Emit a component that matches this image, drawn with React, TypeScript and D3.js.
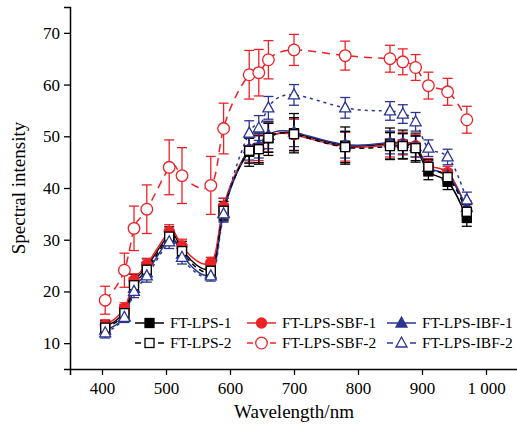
import * as d3 from 'd3';
import { useEffect, useRef } from 'react';

const wavelengths = [405, 435, 450, 470, 505, 525, 570, 590, 630, 645, 660, 700, 780, 850, 870, 890, 910, 940, 970];

const lps1 = [13.2, 16.2, 21.8, 24.8, 31.0, 28.2, 24.6, 36.0, 47.0, 47.6, 49.6, 50.6, 48.2, 48.6, 48.4, 47.8, 43.2, 41.2, 34.2];
const lps1Err = [1.2, 1.2, 1.5, 1.5, 1.5, 1.5, 1.2, 2.0, 2.8, 3.0, 3.3, 3.8, 3.6, 3.0, 2.8, 2.8, 1.6, 1.5, 1.6];
const lps2 = [13.0, 15.8, 21.2, 24.2, 30.6, 27.8, 24.0, 35.6, 47.2, 47.5, 49.7, 50.4, 47.9, 48.1, 48.1, 47.7, 44.1, 42.1, 35.4];
const lps2Err = [1.0, 1.0, 1.3, 1.3, 1.3, 1.3, 1.0, 1.8, 2.4, 2.6, 2.8, 3.2, 3.0, 2.6, 2.4, 2.4, 1.4, 1.3, 1.4];
const sbf1 = [13.5, 16.8, 22.2, 25.2, 31.6, 28.8, 25.6, 36.4, 47.4, 47.8, 49.8, 50.3, 48.0, 48.4, 48.6, 48.2, 44.4, 43.0, 35.8];
const sbf1Err = [1.0, 1.0, 1.2, 1.2, 1.3, 1.3, 1.0, 1.6, 2.4, 2.5, 2.8, 3.0, 2.8, 2.4, 2.2, 2.2, 1.3, 1.2, 1.3];
const sbf2 = [18.3, 24.1, 32.2, 35.9, 44.0, 42.4, 40.5, 51.5, 61.9, 62.3, 64.8, 66.7, 65.6, 65.0, 64.4, 63.3, 59.8, 58.6, 53.2];
const sbf2Err = [2.7, 3.3, 4.3, 4.7, 5.3, 5.4, 5.6, 4.9, 4.7, 4.5, 3.7, 3.0, 2.8, 2.6, 2.5, 2.5, 2.6, 2.6, 2.6];
const ibf1 = [12.5, 15.2, 20.6, 23.6, 30.2, 27.2, 23.4, 35.2, 47.6, 48.2, 50.2, 50.8, 48.4, 48.8, 48.6, 48.0, 44.0, 42.4, 36.2];
const ibf1Err = [1.0, 1.0, 1.2, 1.2, 1.3, 1.3, 1.0, 1.6, 2.2, 2.4, 2.6, 2.8, 2.6, 2.2, 2.0, 2.0, 1.3, 1.2, 1.3];
const ibf2 = [12.0, 15.0, 20.0, 23.0, 29.6, 26.6, 23.0, 35.0, 50.6, 51.6, 55.5, 58.0, 55.5, 54.9, 54.3, 52.8, 47.7, 46.0, 37.7];
const ibf2Err = [1.0, 1.0, 1.2, 1.2, 1.3, 1.3, 1.0, 1.6, 2.4, 2.4, 2.2, 2.0, 2.0, 1.8, 1.8, 1.8, 1.6, 1.5, 1.5];

const xTicks = [400, 500, 600, 700, 800, 900, 1000];
const yTicks = [10, 20, 30, 40, 50, 60, 70];

const RED = '#ec2227';
const BLUE = '#2b3590';

type Series = {
    name: string;
    values: number[];
    err: number[];
    color: string;
    dash: string | null;
    marker: 'square' | 'circle' | 'triangle';
    filled: boolean;
};

const series: Series[] = [
    { name: 'FT-LPS-1', values: lps1, err: lps1Err, color: '#000', dash: null, marker: 'square', filled: true },
    { name: 'FT-LPS-SBF-1', values: sbf1, err: sbf1Err, color: RED, dash: null, marker: 'circle', filled: true },
    { name: 'FT-LPS-IBF-1', values: ibf1, err: ibf1Err, color: BLUE, dash: null, marker: 'triangle', filled: true },
    { name: 'FT-LPS-2', values: lps2, err: lps2Err, color: '#000', dash: '5,4', marker: 'square', filled: false },
    { name: 'FT-LPS-SBF-2', values: sbf2, err: sbf2Err, color: RED, dash: '8,6', marker: 'circle', filled: false },
    { name: 'FT-LPS-IBF-2', values: ibf2, err: ibf2Err, color: BLUE, dash: '3,4', marker: 'triangle', filled: false },
];

// legend layout: row, column
const legendOrder = ['FT-LPS-1', 'FT-LPS-SBF-1', 'FT-LPS-IBF-1', 'FT-LPS-2', 'FT-LPS-SBF-2', 'FT-LPS-IBF-2'];

function drawMarker(g: any, s: Series, cx: number, cy: number) {
    const fill = s.filled ? s.color : '#fff';
    if (s.marker === 'square') {
        g.append('rect')
            .attr('x', cx - 4.5)
            .attr('y', cy - 4.5)
            .attr('width', 9)
            .attr('height', 9)
            .attr('fill', fill)
            .attr('stroke', s.color)
            .attr('stroke-width', 1.3);
    } else if (s.marker === 'circle') {
        g.append('circle')
            .attr('cx', cx)
            .attr('cy', cy)
            .attr('r', s.filled ? 5 : 5.8)
            .attr('fill', fill)
            .attr('stroke', s.color)
            .attr('stroke-width', 1.3);
    } else {
        const h = 10;
        g.append('path')
            .attr('d', `M${cx},${cy - h * 0.6}L${cx + 5.5},${cy + h * 0.4}L${cx - 5.5},${cy + h * 0.4}Z`)
            .attr('fill', fill)
            .attr('stroke', s.color)
            .attr('stroke-width', 1.3);
    }
}

const App = () => {
    const svgRef = useRef<SVGSVGElement>(null);

    useEffect(() => {
        const width = 517;
        const height = 424;
        const svg = d3.select(svgRef.current);
        svg.selectAll('*').remove();
        svg.attr('width', width).attr('height', height);

        const x = d3.scaleLinear().domain([350, 1050]).range([70, 518]);
        const y = d3.scaleLinear().domain([5, 75]).range([369, 7]);

        const font = "'Liberation Serif', 'Times New Roman', serif";

        // 오차 막대와 선
        series.forEach((s) => {
            const g = svg.append('g');
            s.values.forEach((v, i) => {
                const cx = x(wavelengths[i]);
                const y0 = y(v - s.err[i]);
                const y1 = y(v + s.err[i]);
                g.append('line').attr('x1', cx).attr('x2', cx).attr('y1', y0).attr('y2', y1).attr('stroke', s.color).attr('stroke-width', 1.3);
                [y0, y1].forEach((yy) =>
                    g.append('line').attr('x1', cx - 5).attr('x2', cx + 5).attr('y1', yy).attr('y2', yy).attr('stroke', s.color).attr('stroke-width', 1.3)
                );
            });
            const line = d3
                .line<number>()
                .x((_, i) => x(wavelengths[i]))
                .y((d) => y(d))
                .curve(d3.curveNatural);
            g.append('path')
                .attr('d', line(s.values))
                .attr('fill', 'none')
                .attr('stroke', s.color)
                .attr('stroke-width', 1.5)
                .attr('stroke-dasharray', s.dash);
        });

        // 마커
        series.forEach((s) => {
            const g = svg.append('g');
            s.values.forEach((v, i) => drawMarker(g, s, x(wavelengths[i]), y(v)));
        });

        // X축
        const xAxis = svg
            .append('g')
            .attr('transform', `translate(0, 369)`)
            .call(
                d3
                    .axisBottom(x)
                    .tickValues(xTicks)
                    .tickSize(6)
                    .tickFormat((d: any) => (d === 1000 ? '1 000' : String(d)))
            );
        xAxis.select('.domain').attr('stroke-width', 1.5);
        xAxis.selectAll('line').attr('stroke-width', 1.3);
        xAxis.selectAll('text').attr('font-family', font).attr('font-size', 17).attr('dy', '0.95em').attr('fill', '#000');

        // Y축
        const yAxis = svg
            .append('g')
            .attr('transform', 'translate(70, 0)')
            .call(d3.axisLeft(y).tickValues(yTicks).tickSize(6).tickFormat((d: any) => String(d)));
        yAxis.select('.domain').attr('stroke-width', 1.5);
        yAxis.selectAll('line').attr('stroke-width', 1.3);
        yAxis.selectAll('text').attr('font-family', font).attr('font-size', 17).attr('x', -10).attr('fill', '#000');

        svg.append('text')
            .attr('x', 294)
            .attr('y', 418)
            .attr('text-anchor', 'middle')
            .attr('font-family', font)
            .attr('font-size', 19)
            .text('Wavelength/nm');

        svg.append('text')
            .attr('transform', 'translate(25, 188) rotate(-90)')
            .attr('text-anchor', 'middle')
            .attr('font-family', font)
            .attr('font-size', 19)
            .text('Spectral intensity');

        // 범례
        const colX = [135, 247, 387];
        const rowY = [323, 343];
        legendOrder.forEach((name, idx) => {
            const s = series.find((d) => d.name === name)!;
            const col = idx % 3;
            const row = Math.floor(idx / 3);
            const lx = colX[col];
            const ly = rowY[row];
            const g = svg.append('g');
            if (s.dash) {
                g.append('line').attr('x1', lx).attr('x2', lx + 6).attr('y1', ly).attr('y2', ly).attr('stroke', s.color).attr('stroke-width', 1.5);
                g.append('line').attr('x1', lx + 23).attr('x2', lx + 29).attr('y1', ly).attr('y2', ly).attr('stroke', s.color).attr('stroke-width', 1.5);
            } else {
                g.append('line').attr('x1', lx).attr('x2', lx + 29).attr('y1', ly).attr('y2', ly).attr('stroke', s.color).attr('stroke-width', 1.5);
            }
            drawMarker(g, s, lx + 14.5, ly);
            g.append('text')
                .attr('x', lx + 35)
                .attr('y', ly)
                .attr('dy', '0.35em')
                .attr('font-family', font)
                .attr('font-size', 15.5)
                .text(name);
        });
    }, []);

    return <svg ref={svgRef} style={{ position: 'absolute', left: 0, top: 0, background: '#fff' }} />;
};

export default App;
